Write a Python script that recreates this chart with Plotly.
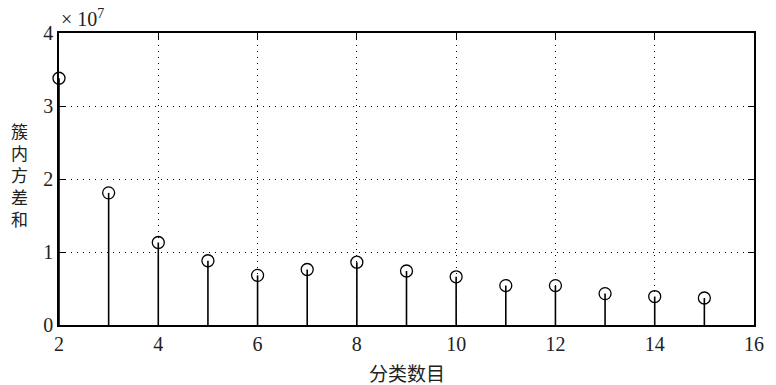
import plotly.graph_objects as go

# Number of clusters and within-cluster sum of squares (units of 1e7)
clusters = [2, 3, 4, 5, 6, 7, 8, 9, 10, 11, 12, 13, 14, 15]
wcss = [3.38, 1.81, 1.13, 0.88, 0.68, 0.76, 0.86, 0.74, 0.66, 0.54, 0.54, 0.43, 0.39, 0.37]
x_ticks = [2, 4, 6, 8, 10, 12, 14, 16]
y_ticks = [0, 1, 2, 3, 4]

SERIF = "Liberation Serif, Times New Roman, serif"
CJK = "Noto Sans CJK SC, sans-serif"

# stems: one segment per point, from 0 up to the value
stem_x, stem_y = [], []
for c, v in zip(clusters, wcss):
    stem_x += [c, c, None]
    stem_y += [0, v, None]

fig = go.Figure()
fig.add_trace(go.Scatter(
    x=stem_x, y=stem_y, mode="lines",
    line=dict(color="black", width=1.6),
    hoverinfo="skip", showlegend=False,
))
fig.add_trace(go.Scatter(
    x=clusters, y=wcss, mode="markers",
    marker=dict(symbol="circle-open", size=12, color="black", line=dict(width=1.3)),
    cliponaxis=False, showlegend=False,
))

axis_common = dict(
    showline=True, linecolor="black", linewidth=1.6, mirror="allticks",
    ticks="inside", ticklen=6, tickwidth=1.3, tickcolor="black",
    showgrid=True, gridcolor="black", gridwidth=1.4, griddash="1px,5px",
    zeroline=False,
    tickfont=dict(family=SERIF, size=20, color="#222"),
)

fig.update_xaxes(range=[2, 16], tickvals=x_ticks, ticktext=[str(t) for t in x_ticks], **axis_common)
fig.update_yaxes(range=[0, 4], tickvals=y_ticks, ticktext=[str(t) for t in y_ticks], **axis_common)

fig.update_layout(
    width=776, height=385,
    margin=dict(l=59, r=13, t=33, b=60),
    paper_bgcolor="white", plot_bgcolor="white",
    annotations=[
        dict(text="× 10<sup>7</sup>", x=0, y=1, xref="paper", yref="paper",
             xanchor="left", yanchor="bottom", yshift=1, showarrow=False,
             font=dict(family=SERIF, size=20, color="#222")),
        dict(text="分类数目", x=0.5, y=0, xref="paper", yref="paper",
             xanchor="center", yanchor="top", yshift=-32, showarrow=False,
             font=dict(family=CJK, size=19, color="#222")),
        dict(text="簇<br>内<br>方<br>差<br>和", x=0, y=0.514, xref="paper", yref="paper",
             xanchor="center", yanchor="middle", xshift=-40, showarrow=False, align="center",
             font=dict(family=CJK, size=17, color="#222")),
    ],
)

# keep the page free of margins and scrollbars so the figure uses the full window
page_js = (
    "document.documentElement.style.margin='0';"
    "document.body.style.margin='0';"
    "document.documentElement.style.overflow='hidden';"
    "document.body.style.overflow='hidden';"
)
fig.write_html("out.html", post_script=page_js)
